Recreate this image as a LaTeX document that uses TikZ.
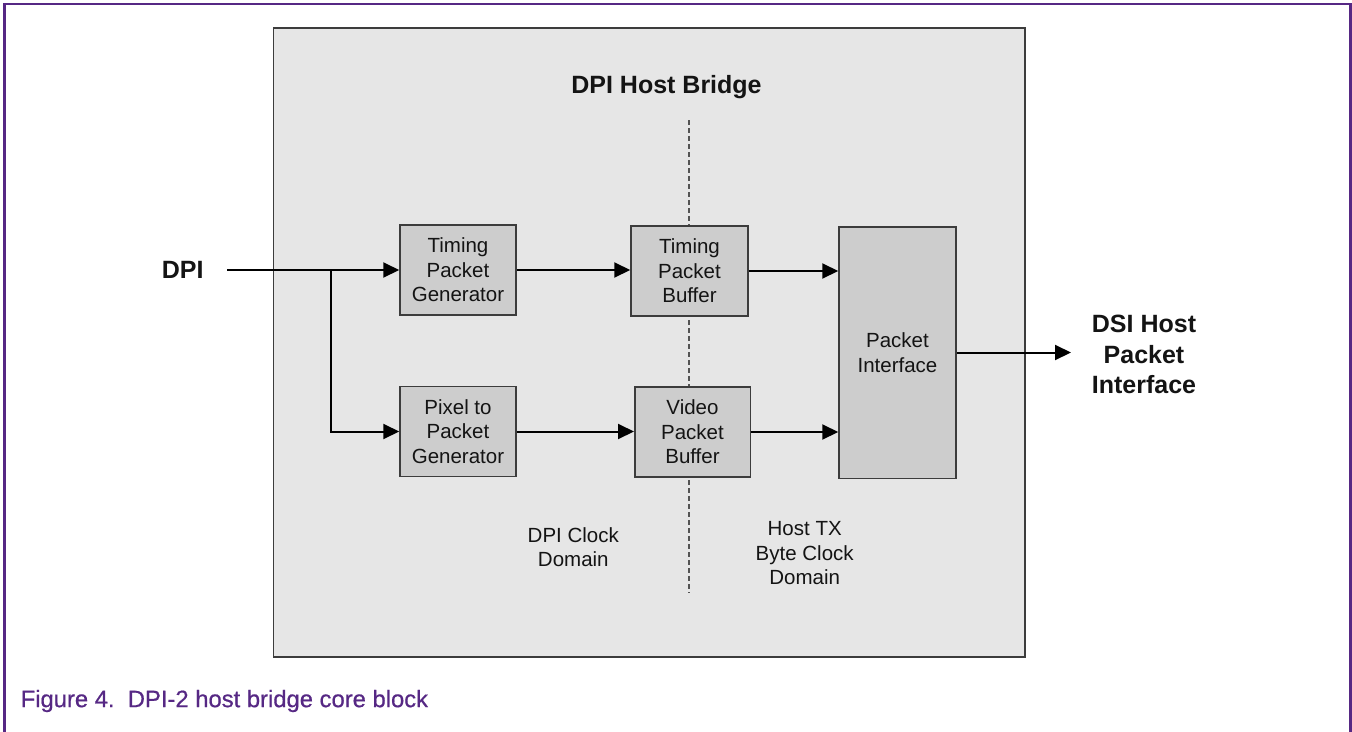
\documentclass[tikz,border=0pt]{standalone}
\usepackage{fontspec}
\setmainfont{Liberation Sans}
\newfontfamily\captionfont[FakeBold=0.6]{Liberation Sans}
\usetikzlibrary{arrows.meta}
\definecolor{framepurple}{RGB}{86,40,132}
\definecolor{bridgefill}{RGB}{230,230,230}
\definecolor{blockfill}{RGB}{205,205,205}
\definecolor{edgegray}{RGB}{60,60,60}
\definecolor{inkcol}{RGB}{20,20,20}
\tikzset{
  blockbox/.style={draw=edgegray, line width=1.5pt, fill=blockfill, inner sep=0pt,
    align=center, text=inkcol, font=\fontsize{20.5}{24.5}\selectfont},
  boldlabel/.style={inner sep=0pt, align=center, text=inkcol,
    font=\fontsize{25}{30.5}\selectfont\bfseries},
  plainlabel/.style={inner sep=0pt, align=center, text=inkcol,
    font=\fontsize{20.5}{24.5}\selectfont},
  flow/.style={draw=black, line width=2pt, -{Triangle[length=16pt,width=15pt]}},
  domainline/.style={draw=gray!65!black, line width=1.7pt, dash pattern=on 5pt off 3pt}
}
\begin{document}
\begin{tikzpicture}[x=1pt, y=-1pt]
\useasboundingbox (0,0) rectangle (1352,731);

% page frame (open at the bottom)
\draw[framepurple, line width=2.7pt] (4.7,735) -- (4.7,4) -- (1350.7,4) -- (1350.7,735);

% bridge container
\draw[draw=edgegray, line width=1.6pt, fill=bridgefill] (273.5,28) rectangle (1025,657);
\node[boldlabel] (title) at (666.5,87.5) {DPI Host Bridge};

% clock domain boundary
\coordinate (domtop) at (689.3,120);
\coordinate (dombot) at (689.3,593);
\draw[domainline] (domtop) -- (dombot);

% processing blocks
\node[blockbox, minimum width=116pt, minimum height=90pt] (tpg) at (458,270) {Timing\\Packet\\Generator};
\node[blockbox, minimum width=116pt, minimum height=90pt] (ppg) at (458,431.5) {Pixel to\\Packet\\Generator};
\node[blockbox, minimum width=117pt, minimum height=90pt] (tpb) at (689.5,271) {Timing\\Packet\\Buffer};
\node[blockbox, minimum width=115.5pt, minimum height=90pt] (vpb) at (692.5,432) {Video\\Packet\\Buffer};
\node[blockbox, minimum width=117pt, minimum height=251.5pt] (pif) at (897.5,352.5) {Packet\\Interface};

% external labels
\node[boldlabel] (dpi) at (182.7,270) {DPI};
\node[boldlabel] (dsi) at (1144,354.5) {DSI Host\\Packet\\Interface};
\node[plainlabel] (dpiclk) at (573.3,547) {DPI Clock\\Domain};
\node[plainlabel] (txclk) at (804.7,553.3) {Host TX\\Byte Clock\\Domain};

% connections
\coordinate (dpiin) at (227,270);
\coordinate (split) at (331,270);
\coordinate (dsiout) at (1071,352.5);
\draw[flow] (dpiin) -- (dpiin -| tpg.west);
\draw[flow] (split) |- (ppg.west);
\draw[flow] (tpg.east) -- (tpg.east -| tpb.west);
\draw[flow] (ppg.east) -- (ppg.east -| vpb.west);
\draw[flow] (tpb.east) -- (tpb.east -| pif.west);
\draw[flow] (vpb.east) -- (vpb.east -| pif.west);
\draw[flow] (pif.east) -- (dsiout);

% caption
\node[anchor=west, inner sep=0pt, text=framepurple, font=\captionfont\fontsize{23.8}{28}\selectfont] (caption) at (20.5,701) {Figure 4.\ \ DPI-2 host bridge core block};
\end{tikzpicture}
\end{document}
